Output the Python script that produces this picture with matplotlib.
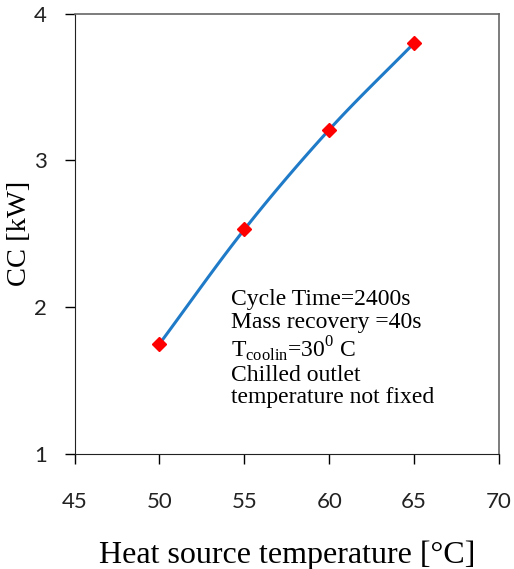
import numpy as np
import matplotlib.pyplot as plt

plt.rcParams['mathtext.fontset'] = 'custom'
plt.rcParams['mathtext.rm'] = 'Liberation Serif'

temps = [50, 55, 60, 65]          # heat source temperature [°C]
cc = [1.75, 2.53, 3.21, 3.80]     # cooling capacity [kW]

note_lines = ['Cycle Time=2400s',
              'Mass recovery =40s',
              r'$\mathregular{T_{coolin}}$=30$^{\mathregular{0}}$ C',
              'Chilled outlet',
              'temperature not fixed']


def smooth(x, y, n=30):
    # catmull-rom style smoothing like a spreadsheet "smoothed line"
    x = np.asarray(x, float)
    y = np.asarray(y, float)
    px = np.r_[2 * x[0] - x[1], x, 2 * x[-1] - x[-2]]
    py = np.r_[2 * y[0] - y[1], y, 2 * y[-1] - y[-2]]
    xs, ys = [], []
    t = np.linspace(0, 1, n)
    for i in range(1, len(px) - 2):
        for p, out in ((px, xs), (py, ys)):
            p0, p1, p2, p3 = p[i - 1], p[i], p[i + 1], p[i + 2]
            out.extend(0.5 * (2 * p1 + (-p0 + p2) * t
                              + (2 * p0 - 5 * p1 + 4 * p2 - p3) * t ** 2
                              + (-p0 + 3 * p1 - 3 * p2 + p3) * t ** 3))
    return xs, ys


fig = plt.figure(figsize=(5.14, 5.69), dpi=100)
ax = fig.add_axes([0.145, 0.202, 0.826, 0.774])

sx, sy = smooth(temps, cc)
ax.plot(sx, sy, color='#1f7bc8', lw=2.2, zorder=2)
ax.plot(temps, cc, 'D', color='red', ms=7, zorder=3)

ax.set_xlim(45, 70)
ax.set_ylim(1, 4)
ax.set_xticks([45, 50, 55, 60, 65, 70])
ax.set_yticks([1, 2, 3, 4])
ax.tick_params(direction='out', length=7, width=1, labelsize=16,
               labelcolor='#222222')
ax.tick_params(axis='x', pad=20)
ax.tick_params(axis='y', pad=13)
for lab in ax.get_xticklabels() + ax.get_yticklabels():
    lab.set_family('Lato')
for side in ('top', 'right'):
    ax.spines[side].set_color('#666666')
    ax.spines[side].set_linewidth(1.2)
for side in ('left', 'bottom'):
    ax.spines[side].set_color('#222222')

ax.set_xlabel('Heat source temperature [°C]', family='Liberation Serif',
              fontsize=23, labelpad=21)
ax.set_ylabel('CC [kW]', family='Liberation Serif', fontsize=20.5)
ax.yaxis.set_label_coords(-0.099, 0.5)

ax.text(0.368, 0.374, '\n'.join(note_lines), transform=ax.transAxes,
        family='Liberation Serif', fontsize=17, va='top', ha='left',
        linespacing=1.09)

fig.savefig('out.png', dpi=100)
